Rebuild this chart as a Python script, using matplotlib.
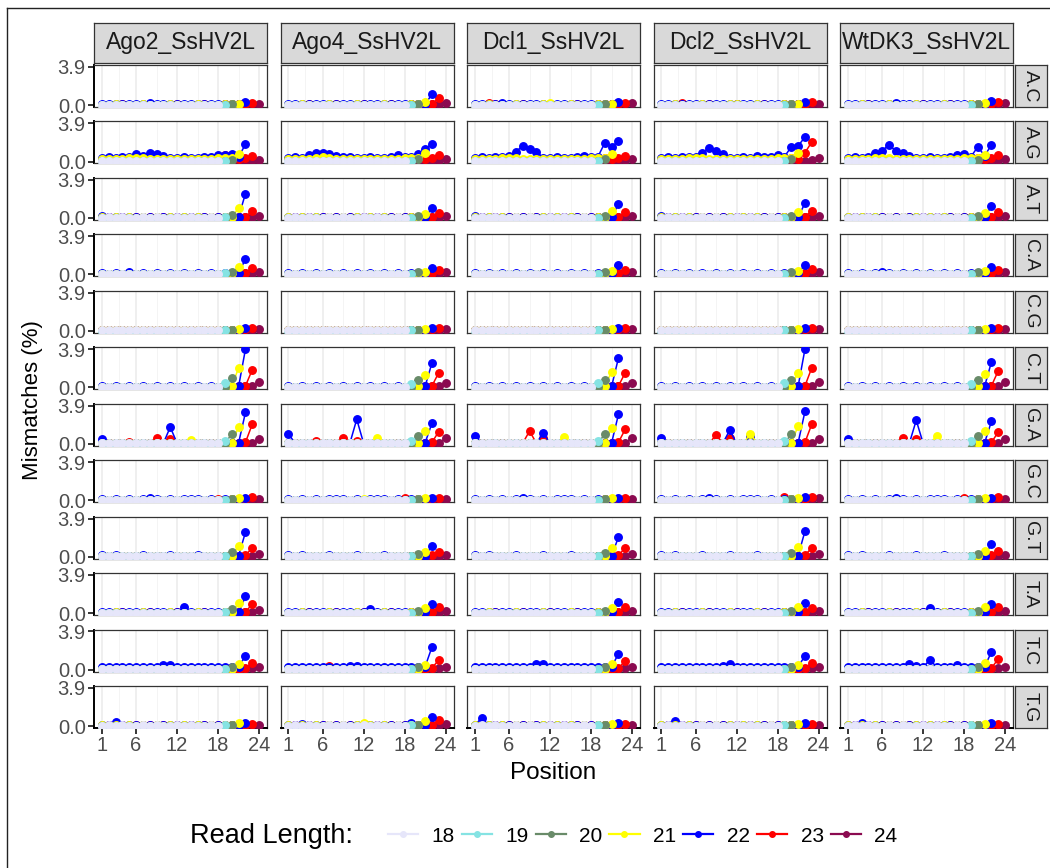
import matplotlib.pyplot as plt
from matplotlib.lines import Line2D

plt.rcParams["font.family"] = ["Liberation Sans", "DejaVu Sans"]

samples = ["Ago2_SsHV2L", "Ago4_SsHV2L", "Dcl1_SsHV2L", "Dcl2_SsHV2L", "WtDK3_SsHV2L"]
mutations = ["A.C", "A.G", "A.T", "C.A", "C.G", "C.T", "G.A", "G.C", "G.T", "T.A", "T.C", "T.G"]
read_lengths = [18, 19, 20, 21, 22, 23, 24]
line_colors = ["#E6E6FA", "#85E3E3", "#698B69", "#FFFF00", "#0000FF", "#FF0000", "#8B0A50"]

# background mismatch level (%) along the read, positions 1..L
floor = {
    18: [0.05, 0.06, 0.05, 0.06, 0.05, 0.05, 0.06, 0.05, 0.06, 0.05, 0.05, 0.06,
         0.05, 0.06, 0.05, 0.05, 0.06, 0.05],
    19: [0.03, 0.02, 0.03, 0.03, 0.02, 0.03, 0.03, 0.02, 0.03, 0.03, 0.02, 0.03,
         0.03, 0.02, 0.03, 0.03, 0.02, 0.03, 0.05],
    20: [0.03, 0.03, 0.02, 0.03, 0.03, 0.02, 0.03, 0.03, 0.02, 0.03, 0.03, 0.02,
         0.03, 0.03, 0.02, 0.03, 0.03, 0.02, 0.05, 0.1],
    21: [0.06, 0.05, 0.07, 0.05, 0.06, 0.05, 0.07, 0.05, 0.06, 0.05, 0.07, 0.05,
         0.06, 0.05, 0.07, 0.05, 0.06, 0.05, 0.07, 0.1, 0.2],
    22: [0.13, 0.07, 0.13, 0.07, 0.12, 0.07, 0.13, 0.08, 0.12, 0.07, 0.13, 0.07,
         0.12, 0.08, 0.13, 0.07, 0.12, 0.07, 0.1, 0.08, 0.1, 0.3],
    23: [0.05, 0.06, 0.05, 0.07, 0.05, 0.06, 0.05, 0.07, 0.05, 0.06, 0.05, 0.07,
         0.05, 0.06, 0.05, 0.07, 0.05, 0.06, 0.07, 0.08, 0.1, 0.15, 0.2],
    24: [0.03, 0.04, 0.03, 0.04, 0.03, 0.04, 0.03, 0.04, 0.03, 0.04, 0.03, 0.04,
         0.03, 0.04, 0.03, 0.04, 0.03, 0.04, 0.05, 0.06, 0.08, 0.1, 0.12, 0.1],
}

# raised background for some substitution types
lifted = {
    ("A.G", 21): [0.25, 0.3, 0.25, 0.3, 0.35, 0.4, 0.35, 0.3, 0.25, 0.3, 0.25, 0.3,
                  0.25, 0.3, 0.25, 0.3, 0.3, 0.35, 0.4, 0.4, 0.8],
    ("A.G", 22): [0.4, 0.45, 0.4, 0.45, 0.5, 0.5, 0.45, 0.5, 0.45, 0.45, 0.4, 0.4,
                  0.45, 0.4, 0.4, 0.45, 0.45, 0.5, 0.5, 0.5, 0.4, 1.8],
    ("A.G", 23): [0.15, 0.2, 0.15, 0.2, 0.25, 0.3, 0.25, 0.2, 0.15, 0.2, 0.15, 0.2,
                  0.15, 0.2, 0.15, 0.2, 0.2, 0.3, 0.4, 0.4, 0.3, 0.4, 0.6],
    ("T.C", 22): [0.3, 0.25, 0.3, 0.25, 0.3, 0.25, 0.3, 0.25, 0.3, 0.35, 0.35, 0.25,
                  0.3, 0.25, 0.3, 0.25, 0.3, 0.25, 0.3, 0.25, 0.3, 1.4],
}

# mismatch at the last base of the read, read lengths 19..24, one list per sample
tail = {
    "A.C": [[0.05, 0.1, 0.15, 0.3, 0.2, 0.1], [0.05, 0.1, 0.35, 1.1, 0.7, 0.2],
            [0.05, 0.1, 0.15, 0.3, 0.25, 0.2], [0.05, 0.1, 0.15, 0.35, 0.3, 0.15],
            [0.05, 0.1, 0.2, 0.4, 0.35, 0.2]],
    "A.G": [[0.1, 0.2, 0.8, 1.75, 0.55, 0.2], [0.1, 0.3, 0.9, 1.8, 0.7, 0.3],
            [0.1, 0.3, 0.8, 2.1, 0.6, 0.3], [0.1, 0.3, 0.9, 2.5, 2.0, 0.4],
            [0.1, 0.2, 0.65, 1.7, 0.65, 0.3]],
    "A.T": [[0.1, 0.3, 1.0, 2.5, 0.7, 0.2], [0.05, 0.2, 0.4, 1.0, 0.5, 0.2],
            [0.05, 0.2, 0.7, 1.4, 0.6, 0.2], [0.05, 0.2, 0.6, 1.5, 0.7, 0.2],
            [0.05, 0.2, 0.5, 1.2, 0.6, 0.2]],
    "C.A": [[0.1, 0.3, 0.8, 1.6, 0.7, 0.2], [0.05, 0.2, 0.3, 0.7, 0.5, 0.2],
            [0.05, 0.2, 0.4, 1.0, 0.5, 0.2], [0.05, 0.2, 0.4, 1.0, 0.6, 0.2],
            [0.05, 0.2, 0.4, 0.8, 0.5, 0.2]],
    "C.G": [[0.05, 0.1, 0.2, 0.3, 0.3, 0.15], [0.05, 0.1, 0.2, 0.3, 0.25, 0.15],
            [0.05, 0.1, 0.2, 0.3, 0.3, 0.15], [0.05, 0.1, 0.2, 0.3, 0.25, 0.15],
            [0.05, 0.1, 0.2, 0.3, 0.3, 0.15]],
    "C.T": [[0.4, 1.0, 2.0, 3.9, 1.8, 0.5], [0.3, 0.8, 1.3, 2.5, 1.5, 0.4],
            [0.4, 0.8, 1.6, 3.0, 1.5, 0.4], [0.4, 0.8, 1.5, 3.9, 2.0, 0.5],
            [0.3, 0.8, 1.4, 2.6, 1.7, 0.5]],
    "G.A": [[0.3, 1.0, 1.7, 3.2, 2.0, 0.5], [0.3, 0.8, 1.3, 2.1, 1.25, 0.55],
            [0.3, 1.0, 1.6, 3.0, 1.5, 0.6], [0.3, 1.0, 1.8, 3.3, 2.0, 0.5],
            [0.3, 0.8, 1.3, 2.3, 1.2, 0.5]],
    "G.C": [[0.05, 0.15, 0.2, 0.25, 0.3, 0.15], [0.05, 0.1, 0.2, 0.25, 0.25, 0.15],
            [0.05, 0.1, 0.2, 0.25, 0.25, 0.15], [0.05, 0.15, 0.2, 0.3, 0.3, 0.2],
            [0.05, 0.1, 0.2, 0.25, 0.3, 0.15]],
    "G.T": [[0.1, 0.5, 1.1, 2.5, 0.9, 0.3], [0.05, 0.3, 0.5, 1.1, 0.5, 0.2],
            [0.1, 0.4, 0.9, 2.0, 0.9, 0.3], [0.1, 0.4, 1.0, 2.6, 0.9, 0.3],
            [0.05, 0.3, 0.6, 1.3, 0.6, 0.2]],
    "T.A": [[0.1, 0.4, 1.0, 1.7, 0.9, 0.3], [0.05, 0.2, 0.5, 0.9, 0.6, 0.2],
            [0.05, 0.2, 0.5, 1.1, 0.6, 0.2], [0.05, 0.2, 0.6, 1.0, 0.5, 0.2],
            [0.05, 0.2, 0.6, 0.9, 0.6, 0.2]],
    "T.C": [[0.1, 0.3, 0.6, 1.4, 0.7, 0.3], [0.1, 0.3, 0.5, 2.3, 1.0, 0.3],
            [0.1, 0.3, 0.6, 1.6, 0.9, 0.3], [0.1, 0.3, 0.5, 1.4, 0.7, 0.3],
            [0.1, 0.3, 0.7, 1.8, 1.1, 0.3]],
    "T.G": [[0.1, 0.1, 0.3, 0.3, 0.25, 0.1], [0.1, 0.15, 0.5, 0.9, 0.6, 0.2],
            [0.1, 0.1, 0.2, 0.3, 0.2, 0.1], [0.1, 0.1, 0.2, 0.3, 0.2, 0.1],
            [0.1, 0.1, 0.2, 0.3, 0.2, 0.1]],
}

# internal peaks: (sample index, read length, position, mismatch %)
spots = {
    "A.C": [(0, 22, 8, 0.2), (2, 23, 3, 0.25), (2, 22, 5, 0.2), (2, 21, 12, 0.25),
            (3, 23, 4, 0.2), (3, 21, 12, 0.15), (4, 22, 8, 0.2)],
    "A.G": [(0, 22, 6, 0.8), (0, 22, 7, 0.6), (0, 22, 8, 0.9), (0, 22, 9, 0.8),
            (0, 22, 10, 0.6), (0, 22, 18, 0.7), (0, 22, 19, 0.7), (0, 22, 20, 0.8),
            (0, 22, 21, 0.5), (0, 23, 19, 0.7), (0, 23, 20, 0.7),
            (1, 22, 4, 0.7), (1, 22, 5, 0.9), (1, 22, 6, 0.9), (1, 22, 7, 0.8),
            (1, 22, 8, 0.6), (1, 21, 6, 0.5), (1, 22, 17, 0.7), (1, 22, 20, 0.8),
            (1, 22, 21, 1.3), (1, 23, 20, 0.5),
            (2, 22, 6, 0.55), (2, 22, 7, 1.0), (2, 22, 8, 1.6), (2, 22, 9, 1.3),
            (2, 22, 10, 1.0), (2, 22, 17, 0.6), (2, 22, 20, 1.9), (2, 22, 21, 1.5),
            (3, 22, 7, 0.9), (3, 22, 8, 1.4), (3, 22, 9, 1.1), (3, 22, 10, 0.8),
            (3, 22, 13, 0.5), (3, 22, 15, 0.6), (3, 22, 18, 0.7), (3, 22, 20, 1.5),
            (3, 22, 21, 1.6), (3, 23, 22, 0.9),
            (4, 22, 5, 0.9), (4, 22, 6, 1.1), (4, 22, 7, 1.7), (4, 22, 8, 1.1),
            (4, 22, 9, 0.9), (4, 22, 10, 0.6), (4, 22, 17, 0.7), (4, 22, 18, 0.8),
            (4, 22, 20, 1.5), (4, 22, 21, 0.6)],
    "A.T": [(0, 22, 1, 0.2), (2, 22, 1, 0.2), (3, 22, 1, 0.2)],
    "C.A": [(0, 22, 5, 0.2), (4, 22, 6, 0.2)],
    "C.G": [],
    "C.T": [],
    "G.A": [(0, 22, 1, 0.5), (0, 23, 5, 0.15), (0, 23, 9, 0.6), (0, 22, 11, 1.7),
            (0, 23, 11, 0.5), (0, 21, 14, 0.4),
            (1, 22, 1, 1.0), (1, 23, 5, 0.25), (1, 23, 9, 0.55), (1, 22, 11, 2.5),
            (1, 23, 11, 0.3), (1, 21, 14, 0.55),
            (2, 22, 1, 0.8), (2, 23, 9, 1.3), (2, 22, 11, 1.1), (2, 23, 11, 0.6),
            (2, 21, 14, 0.7),
            (3, 22, 1, 0.6), (3, 23, 9, 0.9), (3, 22, 11, 1.4), (3, 23, 11, 0.6),
            (3, 22, 14, 0.8), (3, 21, 14, 1.0),
            (4, 22, 1, 0.5), (4, 23, 9, 0.6), (4, 22, 11, 2.4), (4, 23, 11, 0.5),
            (4, 21, 14, 0.8)],
    "G.C": [(0, 22, 8, 0.25), (0, 23, 18, 0.15), (1, 21, 12, 0.15), (1, 23, 18, 0.2),
            (2, 22, 8, 0.25), (3, 22, 8, 0.2), (3, 23, 19, 0.3), (4, 22, 8, 0.25),
            (4, 23, 18, 0.2)],
    "G.T": [],
    "T.A": [(0, 22, 13, 0.6), (1, 22, 13, 0.4), (4, 22, 13, 0.5)],
    "T.C": [(0, 22, 10, 0.5), (0, 22, 11, 0.5), (1, 23, 7, 0.4), (2, 22, 10, 0.6),
            (2, 22, 11, 0.6), (3, 22, 11, 0.6), (4, 22, 10, 0.6), (4, 22, 13, 1.0),
            (4, 22, 17, 0.5)],
    "T.G": [(0, 22, 3, 0.4), (1, 22, 3, 0.2), (1, 21, 12, 0.3), (1, 22, 19, 0.3),
            (2, 22, 2, 0.8), (3, 22, 3, 0.5), (4, 22, 3, 0.35)],
}


def profile(mut, s, length):
    vals = list(lifted.get((mut, length), floor[length]))
    if length > 18:
        vals[-1] = tail[mut][s][length - 19]
    for si, ln, pos, v in spots[mut]:
        if si == s and ln == length:
            vals[pos - 1] = v
    return vals


W, H = 1050, 868
fig = plt.figure(figsize=(W / 100, H / 100), dpi=100)

col_left = [94, 280.5, 467, 653.5, 840]
panel_w = 173
row_step = 56.45
panel_h = 42
top0 = 65


def fx(px):
    return px / W


def fy(px):
    return 1 - px / H


# longest reads first so every read's own 3' end marker stays visible,
# 18 nt last so its flat profile sits on top along the bottom
draw_order = [24, 23, 22, 21, 20, 19, 18]

for r, mut in enumerate(mutations):
    top = top0 + r * row_step
    for c, samp in enumerate(samples):
        ax = fig.add_axes([fx(col_left[c]), fy(top + panel_h), fx(panel_w), panel_h / H])
        for ln in draw_order:
            y = profile(mut, c, ln)
            ax.plot(range(1, ln + 1), y, color=line_colors[read_lengths.index(ln)],
                    lw=1.1, marker="o", ms=5.4, zorder=3)
        ax.set_xlim(1 - 1.15, 24 + 1.15)
        ax.set_ylim(-0.195, 3.9 + 0.195)
        ax.set_xticks([1, 6, 12, 18, 24])
        ax.set_xticks([3.5, 9, 15, 21], minor=True)
        ax.set_yticks([0, 3.9])
        ax.set_yticklabels(["0.0", "3.9"])
        ax.grid(axis="x", which="major", color="#EBEBEB", lw=1.1)
        ax.grid(axis="x", which="minor", color="#F2F2F2", lw=0.6)
        ax.set_axisbelow(True)
        for sp in ax.spines.values():
            sp.set_color("#333333")
            sp.set_linewidth(0.9)
        ax.tick_params(which="minor", length=0)
        ax.tick_params(axis="both", colors="#000000", labelcolor="#4D4D4D",
                       labelsize=14.5, length=4, width=1.1, pad=2)
        if c == 0:
            ax.spines["left"].set_color("black")
            ax.spines["left"].set_linewidth(1.4)
        else:
            ax.tick_params(axis="y", left=False, labelleft=False)
        if r == len(mutations) - 1:
            ax.spines["bottom"].set_color("black")
            ax.spines["bottom"].set_linewidth(1.4)
        else:
            ax.tick_params(axis="x", bottom=False, labelbottom=False)

        if r == 0:
            st = fig.add_axes([fx(col_left[c]), fy(63), fx(panel_w), 40 / H])
            st.set_facecolor("#D9D9D9")
            st.set_xticks([])
            st.set_yticks([])
            for sp in st.spines.values():
                sp.set_color("#333333")
                sp.set_linewidth(0.9)
            st.text(0.5, 0.5, samp, ha="center", va="center", fontsize=16.5,
                    color="#1A1A1A", transform=st.transAxes)

    rs = fig.add_axes([fx(1014.5), fy(top + panel_h), fx(32), panel_h / H])
    rs.set_facecolor("#D9D9D9")
    rs.set_xticks([])
    rs.set_yticks([])
    for sp in rs.spines.values():
        sp.set_color("#333333")
        sp.set_linewidth(0.9)
    rs.text(0.5, 0.5, mut, ha="center", va="center", rotation=-90, fontsize=14,
            color="#1A1A1A", transform=rs.transAxes)

fig.text(fx(33), fy(400), "Mismatches (%)", rotation=90, ha="center", va="center",
         fontsize=16)
fig.text(fx(553), fy(773), "Position", ha="center", va="center", fontsize=17.5)

# legend along the bottom
fig.text(fx(190), fy(836), "Read Length:", ha="left", va="center", fontsize=19.5)
handles = [Line2D([], [], color=col, lw=1.6, marker="o", ms=4) for col in line_colors]
fig.legend(handles, [str(l) for l in read_lengths], loc="center left",
           bbox_to_anchor=(fx(369), fy(836)), ncol=7, frameon=False, fontsize=15,
           handlelength=1.45, handletextpad=0.65, columnspacing=0.33)

# frame around the figure
fig.add_artist(Line2D([fx(7), fx(7)], [fy(8), 0], color="#222222", lw=1.0))
fig.add_artist(Line2D([fx(7), 1], [fy(8), fy(8)], color="#222222", lw=1.0))

fig.savefig("out.png", dpi=100)
